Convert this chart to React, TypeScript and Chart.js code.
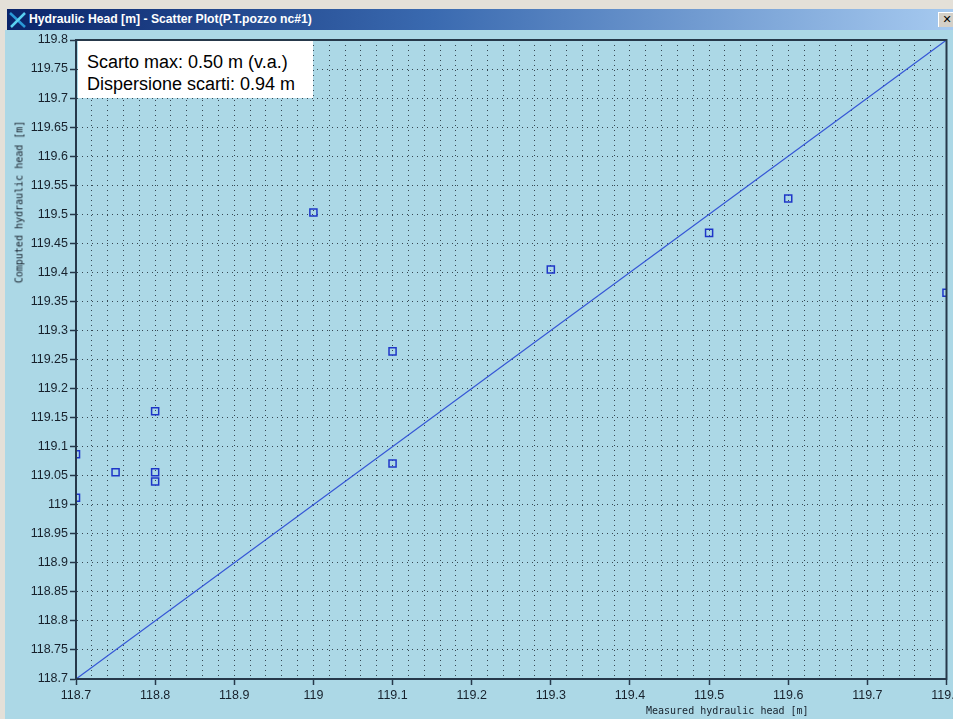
import React, { useEffect, useRef } from 'react';
import Chart from 'chart.js/auto';

// values
const measuredHead = [118.7, 118.7, 118.75, 118.8, 118.8, 118.8, 119.0, 119.1, 119.1, 119.3, 119.5, 119.6, 119.8];
const computedHead = [119.087, 119.012, 119.056, 119.161, 119.056, 119.04, 119.503, 119.264, 119.071, 119.405, 119.468, 119.527, 119.365];
const bisector = [118.7, 119.8];
const axisMin = 118.7;
const axisMax = 119.8;
const xStep = 0.02;
const xLabelStep = 0.1;
const yStep = 0.05;

const windowTitle = 'Hydraulic Head [m] - Scatter Plot(P.T.pozzo nc#1)';
const xTitle = 'Measured hydraulic head [m]';
const yTitle = 'Computed hydraulic head [m]';
const statLines = ['Scarto max: 0.50 m (v.a.)', 'Dispersione scarti: 0.94 m'];

const axisColor = '#26384a';
const dotColor = 'rgba(25,35,45,0.8)';
const tickFont = { family: '"Liberation Sans", Arial, sans-serif', size: 12.5 };
const monoCss = '"DejaVu Sans Mono", monospace';

const onLabel = (v: number) => Math.abs(v / xLabelStep - Math.round(v / xLabelStep)) < 1e-6;
const fmt = (v: number) => String(Math.round(v * 100) / 100);

const framePlugin = {
  id: 'frame',
  afterDraw(chart: any) {
    const { ctx, chartArea: a } = chart;
    ctx.save();
    ctx.strokeStyle = axisColor;
    ctx.lineWidth = 2;
    ctx.strokeRect(a.left, a.top, a.right - a.left, a.bottom - a.top);
    ctx.restore();
  },
};

const ScatterChart: React.FC = () => {
  const canvasRef = useRef<HTMLCanvasElement>(null);

  useEffect(() => {
    if (!canvasRef.current) return;
    const chart = new Chart(canvasRef.current, {
      type: 'scatter',
      data: {
        datasets: [
          {
            type: 'line',
            data: bisector.map((v) => ({ x: v, y: v })),
            borderColor: '#3556d6',
            borderWidth: 1.2,
            pointRadius: 0,
            fill: false,
            tension: 0,
            clip: 0,
          } as any,
          {
            type: 'scatter',
            data: measuredHead.map((x, i) => ({ x, y: computedHead[i] })),
            pointStyle: 'rect',
            pointRadius: 5,
            borderColor: '#1e36c8',
            backgroundColor: 'transparent',
            borderWidth: 1.5,
            clip: 0,
          } as any,
        ],
      },
      options: {
        responsive: false,
        animation: false,
        layout: { padding: { left: 0, top: 40, right: 5, bottom: 0 } },
        plugins: { legend: { display: false }, tooltip: { enabled: false } },
        scales: {
          x: {
            type: 'linear',
            min: axisMin,
            max: axisMax,
            afterFit: (s: any) => {
              s.height = 40;
              s.paddingLeft = 0;
              s.paddingRight = 0;
            },
            ticks: {
              stepSize: xStep,
              autoSkip: false,
              maxRotation: 0,
              minRotation: 0,
              font: tickFont,
              color: '#17212c',
              padding: 3,
              callback: (v: any) => (onLabel(+v) ? fmt(+v) : ''),
            },
            grid: {
              color: dotColor,
              lineWidth: 1,
              tickLength: 6,
              tickWidth: 1.5,
              tickColor: (ctx: any) => (ctx.tick && onLabel(ctx.tick.value) ? axisColor : 'transparent'),
            },
            border: { color: axisColor, width: 2, dash: [1, 4] },
          },
          y: {
            type: 'linear',
            min: axisMin,
            max: axisMax,
            afterFit: (s: any) => {
              s.width = 76;
              s.paddingTop = 0;
              s.paddingBottom = 0;
            },
            ticks: {
              stepSize: yStep,
              autoSkip: false,
              font: tickFont,
              color: '#17212c',
              padding: 2,
              callback: (v: any) => fmt(+v),
            },
            grid: {
              color: dotColor,
              lineWidth: 1,
              tickLength: 6,
              tickWidth: 1.5,
              tickColor: axisColor,
            },
            border: { color: axisColor, width: 2, dash: [1, 4] },
          },
        },
      },
      plugins: [framePlugin],
    });
    return () => {
      chart.destroy();
    };
  }, []);

  return (
    <canvas
      ref={canvasRef}
      width={953}
      height={719}
      style={{ position: 'absolute', left: 0, top: 0, width: 953, height: 719 }}
    />
  );
};

const App: React.FC = () => {
  return (
    <div
      style={{
        position: 'absolute',
        left: 0,
        top: 0,
        width: 953,
        height: 719,
        overflow: 'hidden',
        background: '#e4e0d8',
      }}
    >
      {/* title bar */}
      <div
        style={{
          position: 'absolute',
          left: 7,
          top: 9,
          width: 946,
          height: 21,
          background: 'linear-gradient(to right, #0a246a 0%, #3a6ab0 45%, #a6caf0 100%)',
        }}
      >
        <svg width={20} height={18} style={{ position: 'absolute', left: 1, top: 2 }}>
          <line x1={2} y1={2} x2={17} y2={16} stroke="#2a9ad8" strokeWidth={2.5} />
          <line x1={17} y1={2} x2={3} y2={16} stroke="#5ad0f0" strokeWidth={2.5} />
        </svg>
        <div
          style={{
            position: 'absolute',
            left: 22,
            top: 3,
            color: '#ffffff',
            fontFamily: '"Liberation Sans", Arial, sans-serif',
            fontWeight: 'bold',
            fontSize: 12.2,
            whiteSpace: 'nowrap',
          }}
        >
          {windowTitle}
        </div>
        <div
          style={{
            position: 'absolute',
            left: 931,
            top: 3,
            width: 16,
            height: 14,
            background: '#d4d0c8',
            borderTop: '1px solid #ffffff',
            borderLeft: '1px solid #ffffff',
            color: '#000',
            fontFamily: '"DejaVu Sans", sans-serif',
            fontWeight: 'bold',
            fontSize: 11,
            lineHeight: '14px',
            textAlign: 'center',
          }}
        >
          ✕
        </div>
      </div>
      {/* client area */}
      <div
        style={{ position: 'absolute', left: 5, top: 30, width: 948, height: 689, background: '#acd8e6' }}
      />
      <ScatterChart />
      {/* axis titles */}
      <div
        style={{
          position: 'absolute',
          left: 646,
          top: 705,
          fontFamily: monoCss,
          fontSize: 10,
          color: '#17212c',
          whiteSpace: 'nowrap',
        }}
      >
        {xTitle}
      </div>
      <div
        style={{
          position: 'absolute',
          left: 19,
          top: 202,
          transform: 'translate(-50%, -50%) rotate(-90deg)',
          fontFamily: monoCss,
          fontSize: 10,
          color: '#17212c',
          whiteSpace: 'nowrap',
        }}
      >
        {yTitle}
      </div>
      {/* statistics box */}
      <div
        style={{
          position: 'absolute',
          left: 78,
          top: 41,
          width: 235,
          height: 57,
          boxSizing: 'border-box',
          padding: '10px 0 0 9px',
          background: '#ffffff',
          fontFamily: '"Liberation Sans", Arial, sans-serif',
          fontSize: 18,
          lineHeight: '22px',
          color: '#000',
          whiteSpace: 'nowrap',
        }}
      >
        {statLines.map((l) => (
          <div key={l}>{l}</div>
        ))}
      </div>
    </div>
  );
};

export default App;
